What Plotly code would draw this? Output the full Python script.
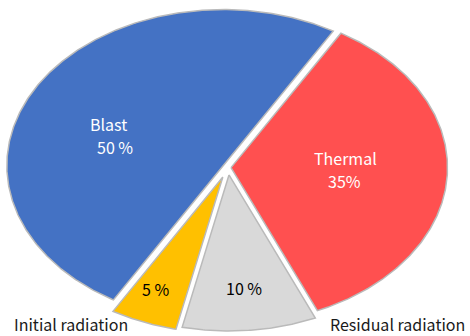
import numpy as np
import plotly.graph_objects as go

# Share of energy released by a nuclear explosion
labels = ["Thermal", "Residual radiation", "Initial radiation", "Blast"]
values = [35, 10, 5, 50]
name_text = ["Thermal", None, None, "Blast"]
value_text = ["35%", "10 %", "5 %", "50 %"]

colors = ["#FF5050", "#D9D9D9", "#FFC000", "#4472C4"]
text_colors = ["white", "black", "black", "white"]
pulls = [0.014, 0.048, 0.065, 0.025]   # explosion of each slice (fraction of radius)
start_angle = 59.5                      # degrees; slices run clockwise

# label anchor points in the pie's unit coordinates
name_pos = [(0.543, 0.064), None, None, (-0.55, 0.282)]
value_pos = [(0.540, -0.086), (0.074, -0.772), (-0.335, -0.779), (-0.52, 0.130)]
outer_pos = {"Initial radiation": (-0.725, -1.002), "Residual radiation": (0.785, -1.002)}

FONT = "Noto Sans CJK KR, Noto Sans, sans-serif"


def text_note(x, y, text, color):
    return dict(x=x, y=y, xref="x", yref="y", text=text, showarrow=False,
                borderpad=0, font=dict(size=16, color=color, family=FONT))


fig = go.Figure()
annotations = []
total = float(sum(values))
t0 = start_angle
for i, (lab, val, col, pull) in enumerate(zip(labels, values, colors, pulls)):
    span = 360.0 * val / total
    t1 = t0 - span
    mid = np.radians((t0 + t1) / 2)
    ox, oy = pull * np.cos(mid), pull * np.sin(mid)
    n = max(int(span * 2), 8)
    th = np.radians(np.linspace(t0, t1, n))
    xs = np.concatenate([[ox], ox + np.cos(th), [ox]])
    ys = np.concatenate([[oy], oy + np.sin(th), [oy]])
    fig.add_trace(go.Scatter(
        x=xs, y=ys, mode="lines", fill="toself", fillcolor=col,
        line=dict(color="#BABABA", width=1.5), hoverinfo="skip", name=lab))
    if name_text[i]:
        annotations.append(text_note(*name_pos[i], name_text[i], text_colors[i]))
    annotations.append(text_note(*value_pos[i], value_text[i], text_colors[i]))
    t0 = t1

for lab, (lx, ly) in outer_pos.items():
    annotations.append(text_note(lx, ly, lab, "#1a1a1a"))

# axes scaled so the pie becomes an ellipse (wider than tall)
fig.update_xaxes(range=[-1.0531, 1.1178], visible=False, fixedrange=True)
fig.update_yaxes(range=[-1.0801, 1.0737], visible=False, fixedrange=True)
fig.update_layout(
    width=470, height=336, margin=dict(l=0, r=0, t=0, b=0),
    paper_bgcolor="white", plot_bgcolor="white", showlegend=False,
    annotations=annotations)

fig.write_html("out.html")
